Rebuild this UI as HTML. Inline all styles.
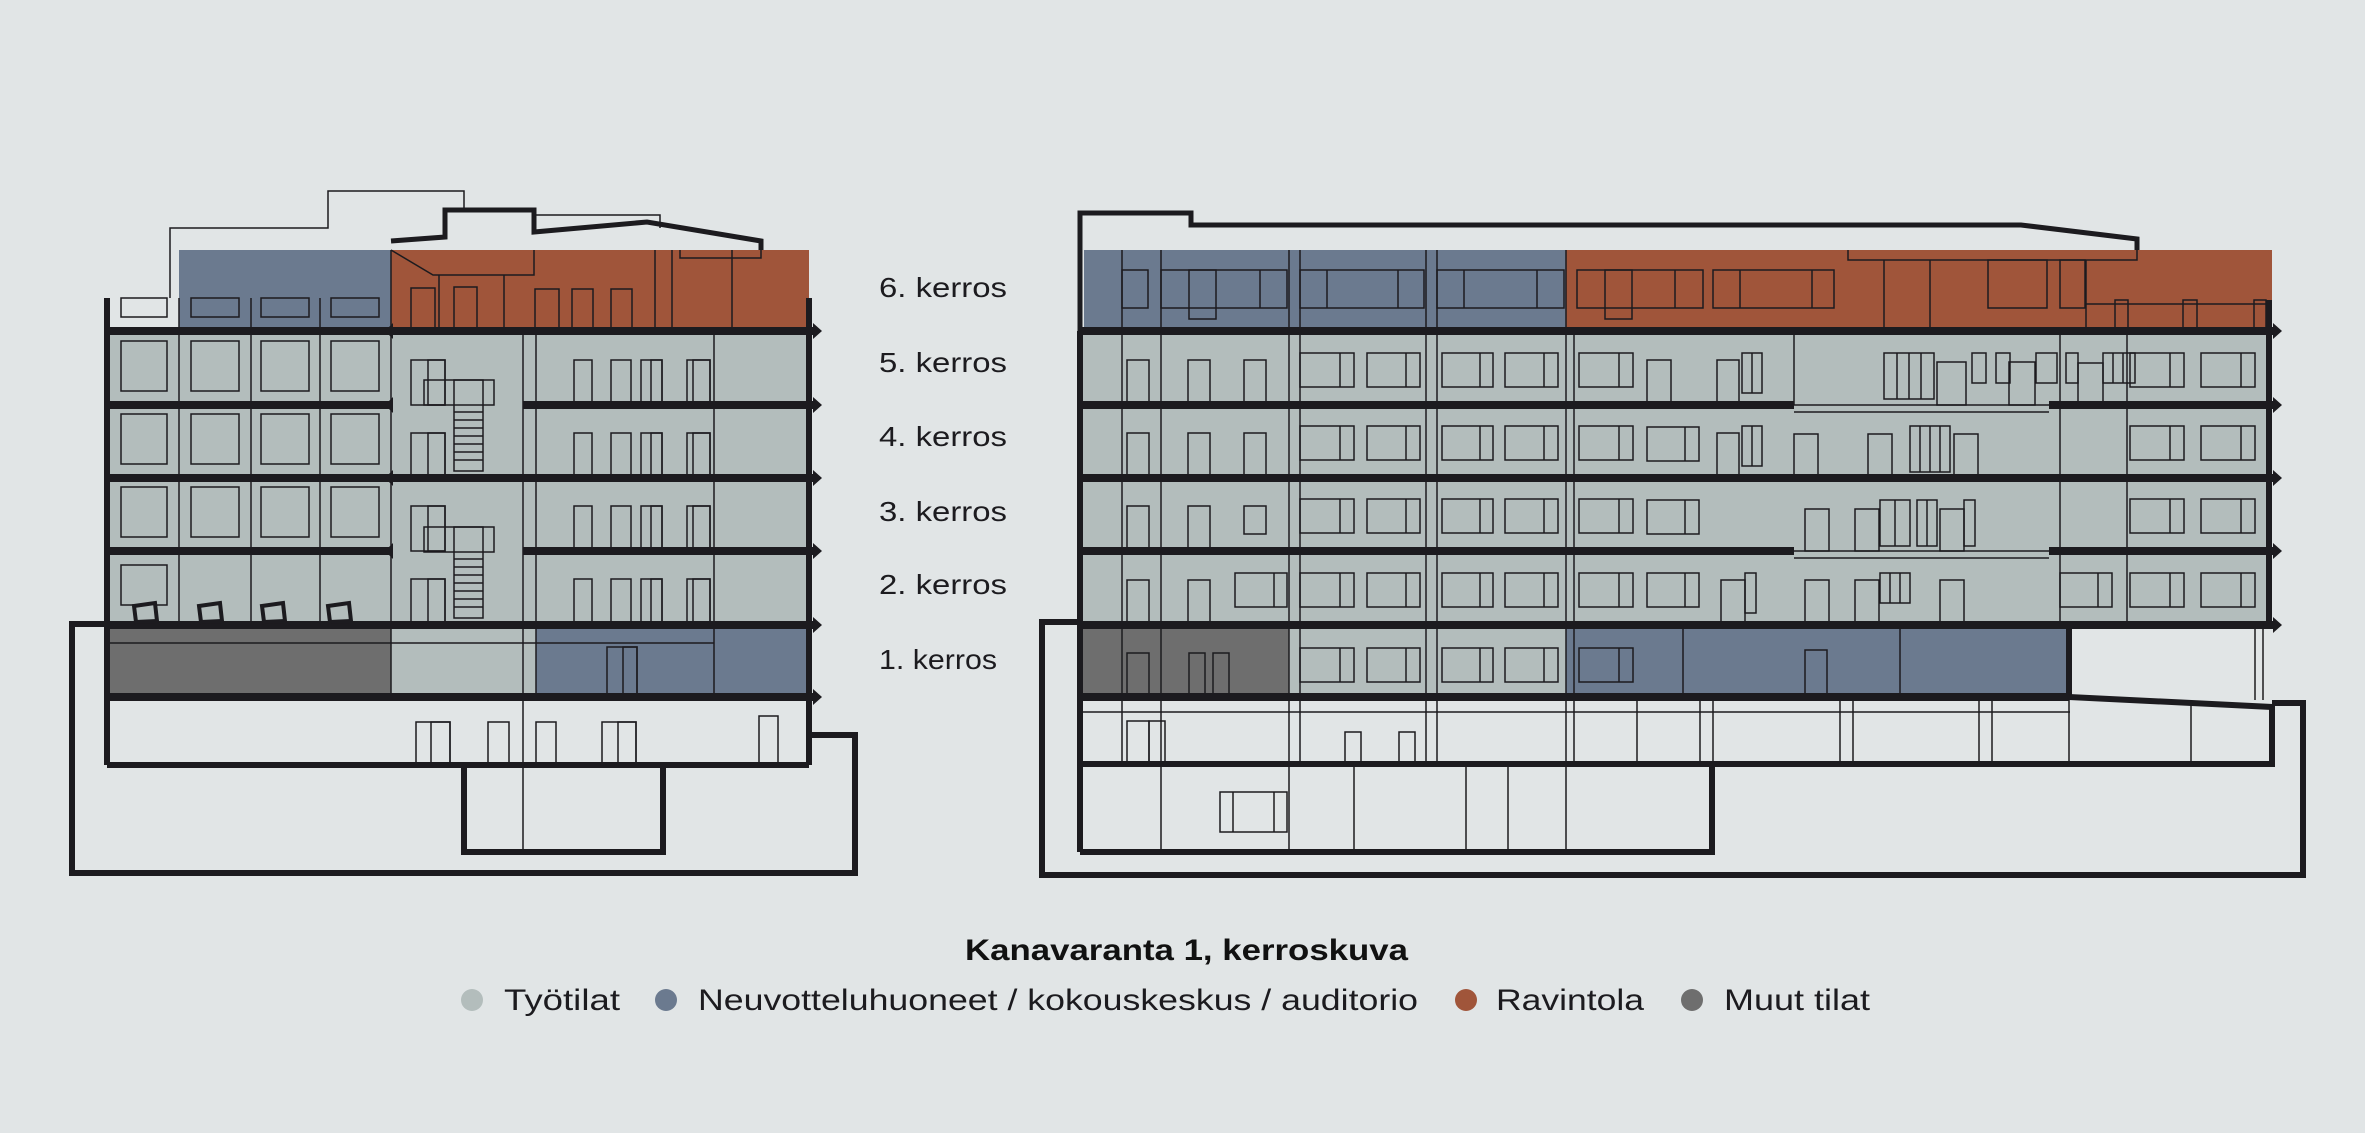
<!DOCTYPE html>
<html><head><meta charset="utf-8"><style>
html,body{margin:0;padding:0;background:#e1e5e6;}
svg{display:block}
text{font-family:"Liberation Sans",sans-serif;}
</style></head><body>
<svg width="2365" height="1133" viewBox="0 0 2365 1133" xmlns="http://www.w3.org/2000/svg">
<defs>
<g id="winL">
 <rect x="121" y="341" width="46" height="50"/><rect x="191" y="341" width="48" height="50"/><rect x="261" y="341" width="48" height="50"/><rect x="331" y="341" width="48" height="50"/>
</g>
<g id="doorsL">
 <rect x="574" y="360" width="18" height="45"/><rect x="611" y="360" width="20" height="45"/><rect x="641" y="360" width="21" height="45"/><rect x="651" y="360" width="11" height="45"/><rect x="687" y="360" width="23" height="45"/><rect x="693" y="360" width="17" height="45"/>
 <rect x="411" y="360" width="34" height="45"/><rect x="428" y="360" width="17" height="45"/>
</g>
<g id="winR">
 <rect x="1300" y="353" width="54" height="34"/><line x1="1340" y1="353" x2="1340" y2="387"/>
 <rect x="1367" y="353" width="53" height="34"/><line x1="1406" y1="353" x2="1406" y2="387"/>
 <rect x="1442" y="353" width="51" height="34"/><line x1="1480" y1="353" x2="1480" y2="387"/>
 <rect x="1505" y="353" width="53" height="34"/><line x1="1544" y1="353" x2="1544" y2="387"/>
 <rect x="1579" y="353" width="54" height="34"/><line x1="1619" y1="353" x2="1619" y2="387"/>
 <rect x="2130" y="353" width="54" height="34"/><line x1="2170" y1="353" x2="2170" y2="387"/>
 <rect x="2201" y="353" width="54" height="34"/><line x1="2241" y1="353" x2="2241" y2="387"/>
 <rect x="1127" y="360" width="22" height="45"/><rect x="1188" y="360" width="22" height="45"/>
</g>
</defs>

<!-- ===== LEFT BUILDING ===== -->
<rect x="179" y="250" width="212" height="81" fill="#6b7a8f"/>
<rect x="391" y="250" width="418" height="81" fill="#a0553a"/>
<rect x="107" y="331" width="702" height="294" fill="#b3bdbc"/>
<rect x="107" y="625" width="284" height="72" fill="#6e6e6e"/>
<rect x="391" y="625" width="145" height="72" fill="#b3bdbc"/>
<rect x="536" y="625" width="273" height="72" fill="#6b7a8f"/>

<g fill="none" stroke="#1c1b1f" stroke-width="1.5">
 <polyline points="170,298 170,228 328,228 328,191 464,191 464,210"/>
 <rect x="121" y="298" width="46" height="19"/>
 <rect x="191" y="298" width="48" height="19"/><rect x="261" y="298" width="48" height="19"/><rect x="331" y="298" width="48" height="19"/>
 <polyline points="534,215 660,215 660,228"/>
 <polyline points="391,250 433,275 534,275 534,250"/>
 <line x1="439" y1="275" x2="439" y2="331"/><line x1="504" y1="275" x2="504" y2="331"/>
 <line x1="655" y1="250" x2="655" y2="331"/><line x1="672" y1="250" x2="672" y2="331"/><line x1="732" y1="250" x2="732" y2="331"/>
 <polyline points="680,250 680,258 761,258 761,250"/>
 <rect x="411" y="288" width="24" height="43"/><rect x="454" y="287" width="23" height="44"/>
 <rect x="535" y="289" width="24" height="42"/><rect x="572" y="289" width="21" height="42"/><rect x="611" y="289" width="21" height="42"/>
 <line x1="179" y1="298" x2="179" y2="625"/><line x1="251" y1="298" x2="251" y2="625"/><line x1="320" y1="298" x2="320" y2="625"/><line x1="391" y1="250" x2="391" y2="697"/>
 <line x1="523" y1="331" x2="523" y2="852"/><line x1="536" y1="331" x2="536" y2="697"/><line x1="714" y1="331" x2="714" y2="697"/>
 <use href="#winL"/><use href="#winL" transform="translate(0,73)"/><use href="#winL" transform="translate(0,146)"/>
 <rect x="121" y="565" width="46" height="40"/>
 <use href="#doorsL"/><use href="#doorsL" transform="translate(0,73)"/><use href="#doorsL" transform="translate(0,146)"/><use href="#doorsL" transform="translate(0,219)"/>
 <rect x="424" y="380" width="70" height="25"/><rect x="454" y="380" width="29" height="91"/>
 <rect x="424" y="527" width="70" height="25"/><rect x="454" y="527" width="29" height="91"/>
 <path d="M454 412h29M454 420h29M454 428h29M454 436h29M454 444h29M454 452h29M454 460h29M454 559h29M454 567h29M454 575h29M454 583h29M454 591h29M454 599h29M454 607h29"/>
 <rect x="607" y="647" width="30" height="50"/><rect x="623" y="647" width="14" height="50"/>
 <line x1="107" y1="643" x2="714" y2="643"/>
 <rect x="416" y="722" width="34" height="43"/><rect x="431" y="722" width="19" height="43"/>
 <rect x="488" y="722" width="21" height="43"/><rect x="536" y="722" width="20" height="43"/>
 <rect x="602" y="722" width="34" height="43"/><rect x="618" y="722" width="18" height="43"/>
 <rect x="759" y="716" width="19" height="49"/>
</g>
<g fill="none" stroke="#1c1b1f" stroke-width="6" stroke-linejoin="miter">
 <polyline points="391,241 445,237 445,210 534,210 534,232 647,222 761,241 761,250" stroke-width="5"/>
 <line x1="107" y1="298" x2="107" y2="765"/>
 <line x1="809" y1="298" x2="809" y2="765"/>
 <line x1="107" y1="331" x2="815" y2="331" stroke-width="8"/>
 <line x1="107" y1="405" x2="391" y2="405" stroke-width="8"/><line x1="523" y1="405" x2="815" y2="405" stroke-width="8"/>
 <line x1="107" y1="478" x2="815" y2="478" stroke-width="8"/>
 <line x1="107" y1="551" x2="391" y2="551" stroke-width="8"/><line x1="523" y1="551" x2="815" y2="551" stroke-width="8"/>
 <line x1="107" y1="625" x2="815" y2="625" stroke-width="8"/>
 <line x1="107" y1="697" x2="815" y2="697" stroke-width="8"/>
 <line x1="107" y1="765" x2="809" y2="765"/>
 <polyline points="107,624 72,624 72,873 855,873 855,735 809,735"/>
 <polyline points="464,765 464,852 663,852 663,765"/>
</g>
<g fill="#1c1b1f">
 <path d="M813 323l9 8-9 8zM813 397l9 8-9 8zM813 470l9 8-9 8zM813 543l9 8-9 8zM813 617l9 8-9 8zM813 689l9 8-9 8z"/>
 <path d="M393 323l-8 8 8 8zM393 397l-8 8 8 8zM393 470l-8 8 8 8zM393 543l-8 8 8 8z"/>
 <path d="M134 606l21-3 2 18-21 1zM199 606l21-3 2 18-21 1zM262 606l21-3 2 18-21 1zM328 606l21-3 2 18-21 1z" fill="#b3bdbc" stroke="#1c1b1f" stroke-width="4"/>
</g>

<g font-size="28" fill="#1c1b1f">
 <text x="879" y="297" textLength="128" lengthAdjust="spacingAndGlyphs">6. kerros</text>
 <text x="879" y="372" textLength="128" lengthAdjust="spacingAndGlyphs">5. kerros</text>
 <text x="879" y="446" textLength="128" lengthAdjust="spacingAndGlyphs">4. kerros</text>
 <text x="879" y="521" textLength="128" lengthAdjust="spacingAndGlyphs">3. kerros</text>
 <text x="879" y="594" textLength="128" lengthAdjust="spacingAndGlyphs">2. kerros</text>
 <text x="879" y="669" textLength="118" lengthAdjust="spacingAndGlyphs">1. kerros</text>
</g>

<!-- ===== RIGHT BUILDING ===== -->
<rect x="1084" y="250" width="482" height="81" fill="#6b7a8f"/>
<rect x="1566" y="250" width="706" height="81" fill="#a0553a"/>
<rect x="1080" y="331" width="1189" height="294" fill="#b3bdbc"/>
<rect x="1080" y="625" width="209" height="72" fill="#6e6e6e"/>
<rect x="1289" y="625" width="277" height="72" fill="#b3bdbc"/>
<rect x="1566" y="625" width="503" height="72" fill="#6b7a8f"/>

<g fill="none" stroke="#1c1b1f" stroke-width="1.5">
 <line x1="1122" y1="250" x2="1122" y2="764"/><line x1="1161" y1="250" x2="1161" y2="852"/>
 <line x1="1289" y1="250" x2="1289" y2="852"/><line x1="1300" y1="250" x2="1300" y2="764"/>
 <line x1="1426" y1="250" x2="1426" y2="764"/><line x1="1437" y1="250" x2="1437" y2="764"/>
 <line x1="1566" y1="250" x2="1566" y2="852"/><line x1="1574" y1="331" x2="1574" y2="764"/>
 <line x1="1794" y1="331" x2="1794" y2="405"/><line x1="1683" y1="625" x2="1683" y2="697"/>
 <line x1="1900" y1="625" x2="1900" y2="697"/>
 <line x1="2060" y1="331" x2="2060" y2="625"/><line x1="2127" y1="331" x2="2127" y2="625"/>
 <line x1="2255" y1="625" x2="2255" y2="700"/><line x1="2263" y1="625" x2="2263" y2="700"/>
 <line x1="1637" y1="697" x2="1637" y2="764"/><line x1="1700" y1="697" x2="1700" y2="764"/><line x1="1713" y1="697" x2="1713" y2="764"/>
 <line x1="1840" y1="697" x2="1840" y2="764"/><line x1="1853" y1="697" x2="1853" y2="764"/>
 <line x1="1979" y1="697" x2="1979" y2="764"/><line x1="1992" y1="697" x2="1992" y2="764"/>
 <line x1="2069" y1="697" x2="2069" y2="764"/><line x1="2191" y1="702" x2="2191" y2="764"/>
 <line x1="1354" y1="764" x2="1354" y2="852"/><line x1="1466" y1="764" x2="1466" y2="852"/><line x1="1508" y1="764" x2="1508" y2="852"/>
 <path d="M1080 712h990M1080 702v10"/>
 <rect x="1122" y="270" width="26" height="38"/><rect x="1161" y="270" width="126" height="38"/>
 <rect x="1189" y="270" width="27" height="49"/><line x1="1260" y1="270" x2="1260" y2="308"/>
 <rect x="1300" y="270" width="124" height="38"/><line x1="1327" y1="270" x2="1327" y2="308"/><line x1="1398" y1="270" x2="1398" y2="308"/>
 <rect x="1437" y="270" width="127" height="38"/><line x1="1464" y1="270" x2="1464" y2="308"/><line x1="1537" y1="270" x2="1537" y2="308"/>
 <rect x="1577" y="270" width="126" height="38"/><rect x="1605" y="270" width="27" height="49"/><line x1="1675" y1="270" x2="1675" y2="308"/>
 <rect x="1713" y="270" width="121" height="38"/><line x1="1740" y1="270" x2="1740" y2="308"/><line x1="1812" y1="270" x2="1812" y2="308"/>
 <polyline points="1848,250 1848,260 2137,260 2137,250"/>
 <line x1="1884" y1="260" x2="1884" y2="331"/><line x1="1930" y1="260" x2="1930" y2="331"/>
 <rect x="1988" y="260" width="59" height="48"/><rect x="2060" y="260" width="25" height="48"/>
 <line x1="2086" y1="260" x2="2086" y2="331"/>
 <polyline points="2086,304 2269,304"/>
 <rect x="2115" y="300" width="13" height="31"/><rect x="2183" y="300" width="14" height="31"/><rect x="2254" y="300" width="12" height="31"/>
 <use href="#winR"/><use href="#winR" transform="translate(0,73)"/><use href="#winR" transform="translate(0,146)"/><use href="#winR" transform="translate(0,220)"/>
 <rect x="1647" y="427" width="52" height="34"/><line x1="1685" y1="427" x2="1685" y2="461"/>
 <rect x="1647" y="500" width="52" height="34"/><line x1="1685" y1="500" x2="1685" y2="534"/>
 <rect x="1647" y="573" width="52" height="34"/><line x1="1685" y1="573" x2="1685" y2="607"/>
 <rect x="1235" y="573" width="52" height="34"/><line x1="1274" y1="573" x2="1274" y2="607"/>
 <rect x="2060" y="573" width="52" height="34"/><line x1="2098" y1="573" x2="2098" y2="607"/>
 <rect x="1244" y="360" width="22" height="45"/><rect x="1244" y="433" width="22" height="45"/><rect x="1244" y="506" width="22" height="28"/>
 <rect x="1647" y="360" width="24" height="45"/><rect x="1717" y="360" width="22" height="45"/><rect x="1742" y="353" width="20" height="40"/><line x1="1752" y1="353" x2="1752" y2="393"/>
 <rect x="1884" y="353" width="50" height="46"/><path d="M1897 353v46M1909 353v46M1921 353v46"/>
 <rect x="1937" y="362" width="29" height="43"/><rect x="1972" y="353" width="14" height="30"/><rect x="1996" y="353" width="14" height="30"/>
 <rect x="2009" y="362" width="26" height="43"/><rect x="2036" y="353" width="21" height="30"/><rect x="2066" y="353" width="12" height="30"/>
 <rect x="2078" y="363" width="25" height="42"/><rect x="2103" y="353" width="32" height="30"/><path d="M2113 353v30M2123 353v30"/>
 <rect x="1717" y="433" width="22" height="45"/><rect x="1742" y="426" width="20" height="40"/><line x1="1752" y1="426" x2="1752" y2="466"/>
 <rect x="1794" y="434" width="24" height="44"/><rect x="1868" y="434" width="24" height="44"/>
 <rect x="1910" y="426" width="40" height="46"/><path d="M1920 426v46M1930 426v46M1940 426v46"/><rect x="1954" y="434" width="24" height="44"/>
 <rect x="1805" y="509" width="24" height="42"/><rect x="1855" y="509" width="24" height="42"/>
 <rect x="1880" y="500" width="30" height="46"/><line x1="1895" y1="500" x2="1895" y2="546"/>
 <rect x="1917" y="500" width="20" height="46"/><line x1="1927" y1="500" x2="1927" y2="546"/>
 <rect x="1940" y="509" width="24" height="42"/><rect x="1964" y="500" width="11" height="46"/>
 <rect x="1721" y="580" width="24" height="45"/><rect x="1745" y="573" width="11" height="40"/>
 <rect x="1805" y="580" width="24" height="45"/><rect x="1855" y="580" width="24" height="45"/>
 <rect x="1880" y="573" width="30" height="30"/><path d="M1890 573v30M1900 573v30"/><rect x="1940" y="580" width="24" height="45"/>
 <rect x="1127" y="653" width="22" height="44"/><rect x="1189" y="653" width="16" height="44"/><rect x="1213" y="653" width="16" height="44"/>
 <rect x="1300" y="648" width="54" height="34"/><line x1="1340" y1="648" x2="1340" y2="682"/>
 <rect x="1367" y="648" width="53" height="34"/><line x1="1406" y1="648" x2="1406" y2="682"/>
 <rect x="1442" y="648" width="51" height="34"/><line x1="1480" y1="648" x2="1480" y2="682"/>
 <rect x="1505" y="648" width="53" height="34"/><line x1="1544" y1="648" x2="1544" y2="682"/>
 <rect x="1579" y="648" width="54" height="34"/><line x1="1619" y1="648" x2="1619" y2="682"/>
 <rect x="1805" y="650" width="22" height="47"/>
 <rect x="1127" y="721" width="22" height="43"/><rect x="1149" y="721" width="16" height="43"/>
 <rect x="1345" y="732" width="16" height="32"/><rect x="1399" y="732" width="16" height="32"/>
 <rect x="1220" y="792" width="67" height="40"/><line x1="1233" y1="792" x2="1233" y2="832"/><line x1="1274" y1="792" x2="1274" y2="832"/>
 <path d="M1794 405h255M1794 412h255M1794 551h255M1794 558h255"/>
</g>
<g fill="none" stroke="#1c1b1f" stroke-width="6">
 <polyline points="1080,331 1080,213 1191,213 1191,225 2021,225 2137,239 2137,250" stroke-width="5"/>
 <line x1="2269" y1="300" x2="2269" y2="625"/>
 <line x1="1080" y1="331" x2="1080" y2="852"/>
 <line x1="1080" y1="331" x2="2275" y2="331" stroke-width="8"/>
 <line x1="1080" y1="405" x2="1794" y2="405" stroke-width="8"/><line x1="2049" y1="405" x2="2275" y2="405" stroke-width="8"/>
 <line x1="1080" y1="478" x2="2275" y2="478" stroke-width="8"/>
 <line x1="1080" y1="551" x2="1794" y2="551" stroke-width="8"/><line x1="2049" y1="551" x2="2275" y2="551" stroke-width="8"/>
 <line x1="1080" y1="625" x2="2275" y2="625" stroke-width="8"/>
 <line x1="1080" y1="697" x2="2069" y2="697" stroke-width="8"/>
 <line x1="2069" y1="622" x2="2069" y2="700"/>
 <polyline points="2069,697 2272,707 2272,764 1080,764"/>
 <polyline points="1080,852 1712,852 1712,764"/>
 <polyline points="1080,622 1042,622 1042,875 2303,875 2303,703 2272,703"/>
</g>
<g fill="#1c1b1f">
 <path d="M2273 323l9 8-9 8zM2273 397l9 8-9 8zM2273 470l9 8-9 8zM2273 543l9 8-9 8zM2273 617l9 8-9 8z"/>
</g>

<text x="965" y="960" font-size="30" font-weight="bold" fill="#111" textLength="443" lengthAdjust="spacingAndGlyphs">Kanavaranta 1, kerroskuva</text>
<g font-size="30" fill="#1c1b1f">
 <circle cx="472" cy="1000" r="11" fill="#b3bdbc"/><text x="504" y="1010" textLength="116" lengthAdjust="spacingAndGlyphs">Työtilat</text>
 <circle cx="666" cy="1000" r="11" fill="#6b7a8f"/><text x="698" y="1010" textLength="720" lengthAdjust="spacingAndGlyphs">Neuvotteluhuoneet / kokouskeskus / auditorio</text>
 <circle cx="1466" cy="1000" r="11" fill="#a0553a"/><text x="1496" y="1010" textLength="148" lengthAdjust="spacingAndGlyphs">Ravintola</text>
 <circle cx="1692" cy="1000" r="11" fill="#6e6e6e"/><text x="1724" y="1010" textLength="146" lengthAdjust="spacingAndGlyphs">Muut tilat</text>
</g>
</svg>
</body></html>
